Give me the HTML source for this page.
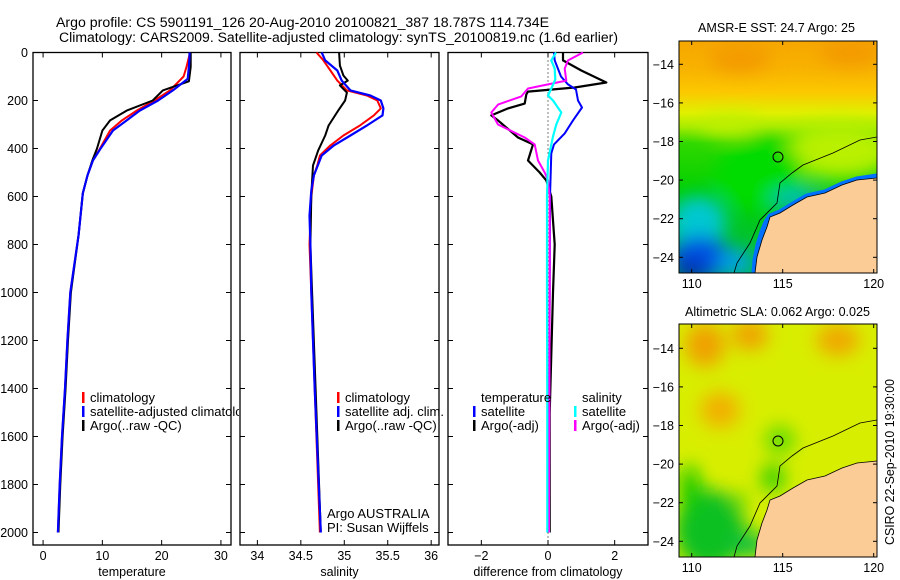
<!DOCTYPE html>
<html><head><meta charset="utf-8"><style>
body{margin:0;background:#fff;}
svg{display:block;font-family:"Liberation Sans",sans-serif;}
</style></head><body>
<svg id="chart" width="900" height="580" viewBox="0 0 900 580" xmlns="http://www.w3.org/2000/svg">
<defs>
<filter id="blur6" x="-50%" y="-50%" width="200%" height="200%"><feGaussianBlur stdDeviation="9"/></filter>
<clipPath id="clipMap1"><rect x="679" y="41" width="198" height="232"/></clipPath>
<clipPath id="clipMap2"><rect x="679" y="324" width="198" height="233"/></clipPath>
<clipPath id="clipP1"><rect x="33" y="52" width="198" height="493"/></clipPath>
<clipPath id="clipLeg1"><rect x="33" y="52" width="206" height="493"/></clipPath>
<clipPath id="clipP2"><rect x="240" y="52" width="199" height="493"/></clipPath>
<clipPath id="clipP3"><rect x="448" y="52" width="200" height="493"/></clipPath>
<linearGradient id="sstGrad" x1="0" y1="0" x2="0" y2="1">
<stop offset="0" stop-color="#f6a600"/><stop offset="0.12" stop-color="#f8b200"/><stop offset="0.22" stop-color="#fcc800"/><stop offset="0.31" stop-color="#e0f000"/><stop offset="0.37" stop-color="#a8ec00"/><stop offset="0.44" stop-color="#30d800"/><stop offset="0.65" stop-color="#00d000"/><stop offset="1" stop-color="#00b850"/>
</linearGradient>
</defs>
<text x="56" y="27" font-size="13.5" textLength="493" lengthAdjust="spacingAndGlyphs">Argo profile: CS 5901191_126 20-Aug-2010 20100821_387 18.787S 114.734E</text>
<text x="59" y="42" font-size="13.5" textLength="559" lengthAdjust="spacingAndGlyphs">Climatology: CARS2009. Satellite-adjusted climatology: synTS_20100819.nc (1.6d earlier)</text>
<g id="plots"></g>

<!-- Map 1 SST -->
<g>
<g clip-path="url(#clipMap1)">
<rect x="679" y="41" width="198" height="232" fill="url(#sstGrad)"/>
<g filter="url(#blur6)">
<ellipse cx="840" cy="150" rx="55" ry="28" fill="#b8f000"/>
<ellipse cx="730" cy="125" rx="30" ry="10" fill="#c0f000"/>
<ellipse cx="740" cy="58" rx="30" ry="14" fill="#f39a00"/>
<ellipse cx="850" cy="52" rx="30" ry="14" fill="#f39a00"/>
<ellipse cx="760" cy="175" rx="45" ry="35" fill="#00dc00"/>
<ellipse cx="698" cy="222" rx="28" ry="26" fill="#00c8d0"/>
<ellipse cx="700" cy="258" rx="30" ry="22" fill="#0050e0"/>
<ellipse cx="690" cy="272" rx="15" ry="10" fill="#0020a0"/>
<ellipse cx="735" cy="262" rx="18" ry="12" fill="#00a0f0"/>
<ellipse cx="800" cy="200" rx="30" ry="10" fill="#00b8c0"/>
</g>
<path d="M877,176 L857,179 L842,184 L825,192 L807,196 L793,204 L780,212 L770,216 L766,222 L762,232 L758,245 L755,260 L754,273" fill="none" stroke="#0070ff" stroke-width="5"/>
<path d="M877,178 L857,180 L842,185 L825,193 L807,197 L793,205 L780,213 L770,217 L767,227 L762,240 L757,257 L755,273 L877,273 Z" fill="#fccc96" stroke="#000" stroke-width="0.8"/>
<path d="M877,137 L860,140 L833,153 L803,165 L792,173 L780,183 L777,203 L760,220 L750,243 L737,263 L734,273" fill="none" stroke="#000" stroke-width="0.8"/>
<circle cx="778" cy="157" r="5" fill="none" stroke="#000" stroke-width="1"/>
</g>
<rect x="679" y="41" width="198" height="232" fill="none" stroke="#000" stroke-width="1"/>
<text x="698" y="32" font-size="12.5" textLength="157" lengthAdjust="spacingAndGlyphs">AMSR-E SST: 24.7 Argo: 25</text>
</g>

<!-- Map 2 SLA -->
<g>
<g clip-path="url(#clipMap2)">
<rect x="679" y="324" width="198" height="233" fill="#d8ee00"/>
<g filter="url(#blur6)">
<ellipse cx="705" cy="345" rx="20" ry="22" fill="#f0a000"/>
<ellipse cx="750" cy="335" rx="18" ry="15" fill="#f0a000"/>
<ellipse cx="838" cy="340" rx="22" ry="16" fill="#f0a800"/>
<ellipse cx="720" cy="410" rx="20" ry="18" fill="#f2b000"/>
<ellipse cx="780" cy="440" rx="15" ry="14" fill="#60dc00"/>
<ellipse cx="773" cy="478" rx="12" ry="14" fill="#30d000"/>
<ellipse cx="710" cy="530" rx="35" ry="40" fill="#10c020"/>
<ellipse cx="690" cy="490" rx="10" ry="25" fill="#10c800"/>
<ellipse cx="740" cy="500" rx="8" ry="8" fill="#60dc00"/>
<ellipse cx="750" cy="545" rx="20" ry="12" fill="#10c040"/>
</g>
<path d="M877,461 L857,463 L842,468 L825,476 L807,480 L793,488 L780,496 L770,500 L767,510 L762,523 L757,540 L755,557 L877,557 Z" fill="#fccc96" stroke="#000" stroke-width="0.8"/>
<path d="M877,420 L860,423 L833,436 L803,448 L792,456 L780,466 L777,486 L760,503 L750,526 L737,546 L734,557" fill="none" stroke="#000" stroke-width="0.8"/>
<circle cx="778" cy="441" r="5" fill="none" stroke="#000" stroke-width="1"/>
</g>
<rect x="679" y="324" width="198" height="233" fill="none" stroke="#000" stroke-width="1"/>
<text x="685" y="316" font-size="12.5" textLength="185" lengthAdjust="spacingAndGlyphs">Altimetric SLA: 0.062 Argo: 0.025</text>
</g>
<text transform="translate(894,462) rotate(-90)" text-anchor="middle" font-size="12.5" textLength="166" lengthAdjust="spacingAndGlyphs">CSIRO 22-Sep-2010 19:30:00</text>
</svg>
<script>
// ---------- data ----------
const depthTicks = [0,200,400,600,800,1000,1200,1400,1600,1800,2000];
const tempTicks = [0,10,20,30];
const salTicks = [34,34.5,35,35.5,36];
const diffTicks = [-2,0,2];
const latTicks = [-14,-16,-18,-20,-22,-24];
const lonTicks = [110,115,120];

const tClimDepth = [0,20,60,100,158,200,242,283,325,400,450,512,587,760,1000,1200,1400,1600,1800,2000];
const tClimVal   = [24.8,24.6,24.2,23.7,21.4,18.8,15.8,13.3,11.3,9.6,8.4,7.5,6.7,6.0,4.6,4.1,3.7,3.2,2.8,2.5];
const tSatDepth  = [0,20,60,110,158,200,242,283,325,400,450,512,587,760,1000,1200,1400,1600,1800,2000];
const tSatVal    = [24.7,24.7,24.6,24.4,21.9,19.4,16.3,14.1,11.8,9.7,8.4,7.5,6.7,6.0,4.6,4.1,3.7,3.2,2.8,2.5];
const tArgoDepth = [0,20,60,120,158,200,242,283,325,400,450,512,587,760,1000,1200,1400,1600,1800,2000];
const tArgoVal   = [24.9,24.9,24.9,24.6,20.2,18.5,14.1,11.3,10.0,9.1,8.3,7.5,6.7,6.0,4.7,4.2,3.8,3.3,2.9,2.6];

const sClimDepth = [0,33,75,117,158,179,200,233,262,304,346,387,429,471,512,600,800,1000,1400,2000];
const sClimVal   = [34.68,34.76,34.84,34.92,35.03,35.26,35.38,35.42,35.34,35.18,34.99,34.84,34.72,34.69,34.65,34.62,34.6,34.62,34.66,34.72];
const sSatDepth  = [0,33,75,117,158,179,200,233,262,304,346,387,429,512,575,680,800,1000,1400,2000];
const sSatVal    = [34.74,34.78,34.92,34.97,35.07,35.30,35.42,35.45,35.44,35.26,35.07,34.88,34.74,34.65,34.62,34.60,34.61,34.62,34.66,34.73];
const sArgoDepth = [0,54,96,117,137,167,200,242,304,346,408,471,533,600,800,1000,1400,2000];
const sArgoVal   = [34.94,34.95,34.99,35.04,34.95,35.03,35.01,34.93,34.82,34.78,34.70,34.64,34.63,34.62,34.61,34.63,34.67,34.73];

const dTSatDepth  = [0,33,100,133,154,200,229,283,337,383,420,600,1000,1500,2000];
const dTSatVal    = [0.18,0.2,0.39,0.6,0.84,0.9,1.02,0.75,0.5,0.18,0.1,0.06,0.05,0.03,0.02];
const dTArgoDepth = [0,33,75,125,146,163,175,213,233,262,283,354,383,450,500,533,600,800,1000,1500,2000];
const dTArgoVal   = [0.45,0.45,1.0,1.75,0.8,-0.6,-0.65,-0.7,-1.2,-1.7,-1.5,-0.9,-0.45,-0.6,-0.25,-0.05,0.1,0.2,0.15,0.05,0.05];
const dSSatDepth  = [0,33,67,113,150,179,200,250,300,350,450,600,1000,1500,2000];
const dSSatVal    = [0.24,0.1,0.2,0.22,0.1,0.0,0.15,0.4,0.25,0.15,0.0,-0.03,-0.03,-0.02,-0.02];
const dSArgoDepth = [0,33,67,117,133,150,183,217,250,300,354,383,450,500,533,600,1000,2000];
const dSArgoVal   = [1.05,0.6,0.5,0.55,0.0,-0.6,-0.8,-1.5,-1.7,-1.5,-0.7,-0.4,-0.3,-0.1,0.0,0.05,0.05,0.03];

// ---------- helpers ----------
const NS = 'http://www.w3.org/2000/svg';
const root = document.getElementById('plots');
const Y0 = 52.5, YS = 0.24;
function yDepth(d){ return Y0 + d*YS; }
function mk(tag, attrs, parent){ const e=document.createElementNS(NS,tag); for(const k in attrs) e.setAttribute(k,attrs[k]); (parent||root).appendChild(e); return e; }

const panels = [
  {name:'temperature', x0:33, x1:231, v0:-1.7, v1:31.7, ticks:tempTicks, label:'temperature', clip:'clipP1'},
  {name:'salinity', x0:240, x1:439, v0:33.8, v1:36.09, ticks:salTicks, label:'salinity', clip:'clipP2'},
  {name:'difference', x0:448, x1:648, v0:-3.0, v1:3.0, ticks:diffTicks, label:'difference from climatology', clip:'clipP3'}
];
function xScale(p,v){ return p.x0 + (v-p.v0)/(p.v1-p.v0)*(p.x1-p.x0); }

function line(p, depths, vals, color, w, name){
  let d='';
  for(let i=0;i<depths.length;i++){ d += (i?'L':'M') + xScale(p,vals[i]).toFixed(1) + ',' + yDepth(depths[i]).toFixed(1); }
  const e = mk('path',{d:d,fill:'none',stroke:color,'stroke-width':w,'clip-path':'url(#'+p.clip+')','stroke-linejoin':'round'});
  
  
}

panels.forEach(function(p){
  const g = mk('g',{});
  
  
  const fr = mk('rect',{x:p.x0,y:Y0,width:p.x1-p.x0,height:545-Y0,fill:'none',stroke:'#000','stroke-width':1.3},g);
  
  
  depthTicks.forEach(function(d){
    const y=yDepth(d);
    mk('line',{x1:p.x0,x2:p.x0+5,y1:y,y2:y,stroke:'#000'},g);
    mk('line',{x1:p.x1-5,x2:p.x1,y1:y,y2:y,stroke:'#000'},g);
  });
  p.ticks.forEach(function(v){
    const x=xScale(p,v);
    mk('line',{x1:x,x2:x,y1:545,y2:540,stroke:'#000'},g);
    mk('line',{x1:x,x2:x,y1:Y0,y2:Y0+5,stroke:'#000'},g);
    const t=mk('text',{x:x,y:560,'font-size':12.5,'text-anchor':'middle'},g);
    t.textContent = (v<0?'\u2212':'')+Math.abs(v);
    
    
  });
  const xl=mk('text',{x:(p.x0+p.x1)/2,y:576,'font-size':12.5,'text-anchor':'middle'},g);
  xl.textContent=p.label;
  
  
});
depthTicks.forEach(function(d){
  const t=mk('text',{x:28,y:yDepth(d)+4.5,'font-size':12.5,'text-anchor':'end'});
  t.textContent=d;
  
  
});
const zl = mk('line',{x1:xScale(panels[2],0),x2:xScale(panels[2],0),y1:Y0,y2:545,stroke:'#000','stroke-dasharray':'1,3'});



line(panels[0], tClimDepth, tClimVal, '#ff0000', 2, 'temp-climatology-line');
line(panels[0], tArgoDepth, tArgoVal, '#000000', 2, 'temp-argo-line');
line(panels[0], tSatDepth, tSatVal, '#0000ff', 2.2, 'temp-satellite-line');
line(panels[1], sClimDepth, sClimVal, '#ff0000', 2, 'sal-climatology-line');
line(panels[1], sArgoDepth, sArgoVal, '#000000', 2, 'sal-argo-line');
line(panels[1], sSatDepth, sSatVal, '#0000ff', 2.2, 'sal-satellite-line');
line(panels[2], dTArgoDepth, dTArgoVal, '#000000', 2.2, 'diff-temp-argo-line');
line(panels[2], dTSatDepth, dTSatVal, '#0000ff', 2, 'diff-temp-satellite-line');
line(panels[2], dSArgoDepth, dSArgoVal, '#ff00ff', 2, 'diff-sal-argo-line');
line(panels[2], dSSatDepth, dSSatVal, '#00ffff', 2.2, 'diff-sal-satellite-line');

function legendEntry(x, y, color, text, clip){
  const g=mk('g',clip?{'clip-path':'url(#'+clip+')'}:{});
  
  
  if(color) mk('rect',{x:x-1,y:y-10,width:2.5,height:11,fill:color},g);
  const t=mk('text',{x:x+7,y:y,'font-size':13},g);
  t.textContent=text;
}
legendEntry(83,402,'#ff0000','climatology');
legendEntry(83,416,'#0000ff','satellite-adjusted climatology','clipLeg1');
legendEntry(83,430,'#000000','Argo(..raw -QC)');
legendEntry(338,402,'#ff0000','climatology');
legendEntry(338,416,'#0000ff','satellite adj. clim.');
legendEntry(338,430,'#000000','Argo(..raw -QC)');
legendEntry(474,402,null,'temperature');
legendEntry(474,416,'#0000ff','satellite');
legendEntry(474,430,'#000000','Argo(-adj)');
legendEntry(575,402,null,'salinity');
legendEntry(575,416,'#00ffff','satellite');
legendEntry(575,430,'#ff00ff','Argo(-adj)');
const a1=mk('text',{x:327,y:518,'font-size':13}); a1.textContent='Argo AUSTRALIA';


const a2=mk('text',{x:327,y:532,'font-size':13}); a2.textContent='PI: Susan Wijffels';



const svg=document.getElementById('chart');
[{top:41,bot:273,lat14:64.3},{top:324,bot:557,lat14:348.3}].forEach(function(m,i){
  latTicks.forEach(function(lat){
    const y=m.lat14 + (-14-lat)*19.3;
    mk('line',{x1:679,x2:683,y1:y,y2:y,stroke:'#000'},svg);
    mk('line',{x1:873,x2:877,y1:y,y2:y,stroke:'#000'},svg);
    const t=mk('text',{x:674,y:y+4.5,'font-size':12.5,'text-anchor':'end'},svg);
    t.textContent='\u2212'+Math.abs(lat);
    
    
  });
  lonTicks.forEach(function(lon){
    const x=691.7+(lon-110)*18.2;
    mk('line',{x1:x,x2:x,y1:m.top,y2:m.top+4,stroke:'#000'},svg);
    mk('line',{x1:x,x2:x,y1:m.bot-4,y2:m.bot,stroke:'#000'},svg);
    const t=mk('text',{x:x,y:m.bot+15,'font-size':12.5,'text-anchor':'middle'},svg);
    t.textContent=lon;
    
    
  });
});
</script>
</body></html>
